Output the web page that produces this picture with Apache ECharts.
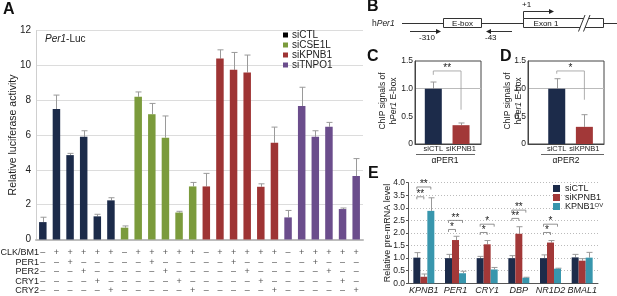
<!DOCTYPE html>
<html>
<head>
<meta charset="utf-8">
<script src="https://cdn.jsdelivr.net/npm/echarts@6/dist/echarts.min.js"></script>
<style>
html, body { margin: 0; padding: 0; background: #fff; }
#chart { width: 617px; height: 296px; }
</style>
</head>
<body>
<div id="chart"></div>
<script>
// Panel A: Per1-Luc reporter, 4 siRNA groups x 6 conditions
const groupNames = ['siCTL', 'siCSE1L', 'siKPNB1', 'siTNPO1']
const ctlVals = [1.0, 7.5, 4.85, 5.9, 1.33, 2.25]
const ctlErr = [0.28, 0.8, 0.1, 0.35, 0.12, 0.15]
const cse1lVals = [0.68, 8.2, 7.2, 5.85, 1.55, 3.05]
const cse1lErr = [0.1, 0.28, 0.62, 1.25, 0.07, 0.23]
const kpnb1Vals = [3.05, 10.4, 9.75, 9.6, 3.03, 5.56]
const kpnb1Err = [0.75, 0.5, 1.0, 1.0, 0.17, 0.9]
const tnpo1Vals = [1.27, 7.67, 5.9, 6.48, 1.75, 3.65]
const tnpo1Err = [0.4, 1.08, 0.35, 0.25, 0.06, 1.0]

const rowNames = ['CLK/BM1', 'PER1', 'PER2', 'CRY1', 'CRY2']
const signCLK = ['–','+','+','+','+','+','–','+','+','+','+','+','–','+','+','+','+','+','–','+','+','+','+','+']
const signPER1 = ['–','–','+','–','–','–','–','–','+','–','–','–','–','–','+','–','–','–','–','–','+','–','–','–']
const signPER2 = ['–','–','–','+','–','–','–','–','–','+','–','–','–','–','–','+','–','–','–','–','–','+','–','–']
const signCRY1 = ['–','–','–','–','+','–','–','–','–','–','+','–','–','–','–','–','+','–','–','–','–','–','+','–']
const signCRY2 = ['–','–','–','–','–','+','–','–','–','–','–','+','–','–','–','–','–','+','–','–','–','–','–','+']

// Panels C / D: ChIP
const chipCats = ['siCTL', 'siKPNB1']
const chipPer1Vals = [1.0, 0.34]
const chipPer1Err = [0.12, 0.04]
const chipPer2Vals = [1.0, 0.31]
const chipPer2Err = [0.18, 0.22]

// Panel E: pre-mRNA
const genes = ['KPNB1', 'PER1', 'CRY1', 'DBP', 'NR1D2', 'BMAL1']
const eCtlVals = [1.02, 1.0, 1.0, 1.0, 1.0, 1.03]
const eCtlErr = [0.2, 0.15, 0.07, 0.1, 0.13, 0.12]
const eKdVals = [0.26, 1.72, 1.55, 1.97, 1.62, 0.9]
const eKdErr = [0.11, 0.15, 0.15, 0.28, 0.08, 0.08]
const eOvVals = [2.88, 0.4, 0.55, 0.22, 0.58, 1.02]
const eOvErr = [0.52, 0.08, 0.08, 0.02, 0.02, 0.21]
// [gene index, from bar, to bar, level]
const eBrackets = [
  [0, 0, 2, 3.83], [0, 0, 1, 3.44],
  [1, 0, 2, 2.5], [1, 0, 1, 2.14],
  [2, 0, 2, 2.35], [2, 0, 1, 2.02],
  [3, 0, 2, 2.91], [3, 0, 1, 2.58],
  [4, 0, 2, 2.35], [4, 0, 1, 2.02]
]
const eBracketLabels = ['**', '**', '**', '*', '*', '*', '**', '**', '*', '*']

const FONT = 'Liberation Sans, Arial, sans-serif'
const colorsA = ['#1c2b4a', '#7b9b3c', '#9e3434', '#6b4d8c']
const colorsE = ['#1c2b4a', '#a23838', '#3896ad']

const catsA = signCLK.map((s, i) => String(i))
const valsA = [ctlVals, cse1lVals, kpnb1Vals, tnpo1Vals]
const errsA = [ctlErr, cse1lErr, kpnb1Err, tnpo1Err]
const signRows = [signCLK, signPER1, signPER2, signCRY1, signCRY2]
const rowOffsets = [12.8, 22.5, 32, 41.5, 51]

function errRender(barW) {
  return function (params, api) {
    const x = api.value(0), v = api.value(1), e = api.value(2), k = api.value(3)
    const p0 = api.coord([x, v])
    const p1 = api.coord([x, v + e])
    const cx = Math.round(p0[0] + k * barW) + 0.5
    const st = { stroke: '#9a9a9a', lineWidth: 1 }
    return {
      type: 'group',
      children: [
        { type: 'line', shape: { x1: cx, y1: p0[1], x2: cx, y2: p1[1] }, style: st },
        { type: 'line', shape: { x1: cx - 3, y1: p1[1], x2: cx + 3, y2: p1[1] }, style: st }
      ]
    }
  }
}

const chart = echarts.init(document.getElementById('chart'))

// x axes: 0 = panel A, 1 = C, 2 = D, 3 = E, 4..8 = condition table rows (own grid under A)
const xAxes = [
  { gridIndex: 0, type: 'category', data: catsA, axisLabel: { show: false }, axisTick: { show: false },
    axisLine: { lineStyle: { color: '#bdbdbd', width: 2 } } }
]
// C and D use value x axes so the bars can sit off-centre in their boxes as in the figure
const chipX = (gi, mn, mx) => ({
  gridIndex: gi, type: 'value', min: mn, max: mx, axisLabel: { show: false }, axisTick: { show: false },
  splitLine: { show: false }, axisLine: { onZero: false, lineStyle: { color: '#444' } }
})
xAxes.push(chipX(1, -0.66, 1.72), chipX(2, -1.04, 1.71))
xAxes.push({
  gridIndex: 3, type: 'category', data: genes, axisTick: { show: false },
  axisLine: { lineStyle: { color: '#555' } },
  axisLabel: { margin: 3, fontFamily: FONT, fontSize: 9, fontStyle: 'italic', color: '#222', interval: 0 }
})
signRows.forEach((row, r) => {
  xAxes.push({
    gridIndex: 4, type: 'category', data: catsA, position: 'bottom', offset: rowOffsets[r],
    axisLine: { show: false }, axisTick: { show: false },
    axisLabel: { interval: 0, margin: 0, verticalAlign: 'middle', fontFamily: FONT, fontSize: 9, color: '#555',
      formatter: (v, i) => row[i] }
  })
})

const chipY = (gi) => ({
  gridIndex: gi, type: 'value', min: 0, max: 1.5, interval: 0.5, position: 'left',
  axisLine: { show: true, onZero: false, lineStyle: { color: '#444' } },
  axisTick: { show: true, length: 0 },
  axisLabel: { show: true, margin: 2, showMinLabel: true, showMaxLabel: true,
    fontFamily: FONT, fontSize: 8.5, color: '#222', formatter: v => v === 0 ? '0' : v.toFixed(1) },
  splitLine: { show: true, lineStyle: { color: ['transparent', 'transparent', '#bbb', 'transparent'] } }
})

const yAxes = [
  { gridIndex: 0, type: 'value', min: 0, max: 12, interval: 2, position: 'left',
    axisLine: { show: true, onZero: false, lineStyle: { color: '#cfcfcf' } }, axisTick: { show: true, length: 0 },
    axisLabel: { show: true, margin: 5, showMinLabel: true, showMaxLabel: true, fontFamily: FONT, fontSize: 10, color: '#222' },
    splitLine: { lineStyle: { color: '#dcdcdc' } } },
  chipY(1), chipY(2),
  { gridIndex: 3, type: 'value', min: 0, max: 4, interval: 0.5,
    axisLine: { show: true, lineStyle: { color: '#555' } }, axisTick: { show: true, length: 2, lineStyle: { color: '#555' } },
    axisLabel: { margin: 3, showMinLabel: true, fontFamily: FONT, fontSize: 8.5, color: '#222', formatter: v => v.toFixed(1) },
    splitLine: { lineStyle: { color: '#bbb', type: [1, 2] } } },
  { gridIndex: 4, type: 'value', show: false }
]

const series = []
groupNames.forEach((g, gi) => {
  series.push({
    name: g, type: 'bar', xAxisIndex: 0, yAxisIndex: 0, barWidth: 7.5, barGap: '-100%',
    itemStyle: { color: colorsA[gi] },
    data: catsA.map((c, i) => Math.floor(i / 6) === gi ? valsA[gi][i % 6] : null)
  })
})
series.push({
  type: 'custom', xAxisIndex: 0, yAxisIndex: 0, renderItem: errRender(0), z: 1,
  data: catsA.map((c, i) => [i, valsA[Math.floor(i / 6)][i % 6], errsA[Math.floor(i / 6)][i % 6], 0])
})

// [values, errors, x axis, y axis, bracket [level, left leg end, right leg end], label]
const chipSets = [
  [chipPer1Vals, chipPer1Err, 1, 1, [1.32, 1.25, 0.62], '**'],
  [chipPer2Vals, chipPer2Err, 2, 2, [1.32, 1.27, 0.8], '*']
]
chipSets.forEach(([vals, errs, xi, yi, br, lab]) => {
  series.push({
    type: 'bar', xAxisIndex: xi, yAxisIndex: yi, barWidth: 17,
    label: { show: true, position: 'bottom', distance: 1, fontFamily: FONT, fontSize: 7.5, color: '#222',
      formatter: p => chipCats[p.dataIndex] },
    data: vals.map((v, i) => ({ value: [i, v], itemStyle: { color: i === 0 ? colorsE[0] : colorsE[1] } }))
  })
  series.push({
    type: 'custom', xAxisIndex: xi, yAxisIndex: yi, renderItem: errRender(0), z: 1,
    data: vals.map((v, i) => [i, v, errs[i], 0])
  })
  series.push({
    type: 'custom', xAxisIndex: xi, yAxisIndex: yi, renderItem: function (params, api) {
      const pa = api.coord([0, api.value(0)]), pb = api.coord([1, api.value(0)])
      const la = api.coord([0, api.value(1)])[1], lb = api.coord([1, api.value(2)])[1]
      return {
        type: 'group', children: [
          { type: 'polyline', shape: { points: [[pa[0], la], [pa[0], pa[1]], [pb[0], pb[1]], [pb[0], lb]] },
            style: { stroke: '#999', lineWidth: 0.8, fill: null } },
          { type: 'text', x: (pa[0] + pb[0]) / 2, y: pa[1] + 2,
            style: { text: lab, font: '10px ' + FONT, fill: '#222', align: 'center', verticalAlign: 'bottom' } }
        ]
      }
    },
    data: [br]
  })
})

const eVals = [eCtlVals, eKdVals, eOvVals]
const eErrs = [eCtlErr, eKdErr, eOvErr]
const eNames = ['E:siCTL', 'E:siKPNB1', 'E:KPNB1OV']
eNames.forEach((n, k) => {
  series.push({
    name: n, type: 'bar', xAxisIndex: 3, yAxisIndex: 3, barWidth: 7, barGap: '0%',
    itemStyle: { color: colorsE[k] }, data: eVals[k]
  })
})
const eErrData = []
eVals.forEach((vals, k) => vals.forEach((v, i) => eErrData.push([i, v, eErrs[k][i], k - 1])))
series.push({ type: 'custom', xAxisIndex: 3, yAxisIndex: 3, renderItem: errRender(7), z: 1, data: eErrData })
series.push({ type: 'custom', xAxisIndex: 3, yAxisIndex: 3, renderItem: function (params, api) {
  const c = api.value(0), k0 = api.value(1) - 1, k1 = api.value(2) - 1
  const p = api.coord([c, api.value(3)])
  const x0 = p[0] + k0 * 7, x1 = p[0] + k1 * 7
  return {
    type: 'group', children: [
      { type: 'polyline', shape: { points: [[x0, p[1] + 2.5], [x0, p[1]], [x1, p[1]], [x1, p[1] + 2.5]] },
        style: { stroke: '#777', lineWidth: 0.8, fill: null } },
      { type: 'text', x: (x0 + x1) / 2, y: p[1] + 2.5,
        style: { text: eBracketLabels[params.dataIndex], font: '10px ' + FONT, fill: '#222', align: 'center', verticalAlign: 'bottom' } }
    ]
  }
}, data: eBrackets })

const txt = (x, y, text, font, extra) => ({
  type: 'text', x: x, y: y, silent: true,
  style: Object.assign({ text: text, font: font, fill: '#111', align: 'left', verticalAlign: 'middle' }, extra || {})
})
const ln = (x1, y1, x2, y2, color) => ({
  type: 'line', silent: true, shape: { x1: x1, y1: y1, x2: x2, y2: y2 }, style: { stroke: color || '#333', lineWidth: 1 }
})
const head = (x, y, dir) => ({
  type: 'polygon', silent: true, shape: { points: [[x, y], [x - 5 * dir, y - 2.5], [x - 5 * dir, y + 2.5]] }, style: { fill: '#222' }
})
const vTitle = (x, y, text, size) => ({
  type: 'text', x: x, y: y, rotation: Math.PI / 2, silent: true,
  style: { text: text, font: size + 'px ' + FONT, fill: '#222', align: 'center', verticalAlign: 'middle',
    lineHeight: 11, rich: { i: { fontStyle: 'italic', fontSize: size, fontFamily: FONT, fill: '#222', lineHeight: 11 } } }
})

const graphics = [
  txt(3, 10, 'A', 'bold 16px ' + FONT),
  txt(367, 7, 'B', 'bold 16px ' + FONT),
  txt(367, 56.5, 'C', 'bold 16px ' + FONT),
  txt(500, 56.5, 'D', 'bold 16px ' + FONT),
  txt(368, 174, 'E', 'bold 16px ' + FONT),
  { type: 'text', x: 45, y: 39.5, silent: true, style: { text: '{i|Per1}-Luc', font: '10px ' + FONT, fill: '#222', verticalAlign: 'middle',
    rich: { i: { fontStyle: 'italic', fontSize: 10, fontFamily: FONT, fill: '#222' } } } },
  // axis titles
  vTitle(13, 135, 'Relative luciferase activity', 10.5),
  vTitle(388, 101, 'ChIP signals of\nh{i|Per1} E-box', 8.5),
  vTitle(513, 101, 'ChIP signals of\nh{i|Per1} E-box', 8.5),
  vTitle(388, 233, 'Relative pre-mRNA level', 9),
  // panel B schematic
  { type: 'text', x: 372, y: 23.5, silent: true, style: { text: 'h{i|Per1}', font: '8.5px ' + FONT, fill: '#222', verticalAlign: 'middle',
    rich: { i: { fontStyle: 'italic', fontSize: 8.5, fontFamily: FONT, fill: '#222' } } } },
  ln(402, 23.5, 443, 23.5), ln(482, 23.5, 523, 23.5), ln(604, 23.5, 617, 23.5),
  { type: 'rect', silent: true, shape: { x: 443.5, y: 18.5, width: 38, height: 9 }, style: { fill: '#fff', stroke: '#333', lineWidth: 1 } },
  txt(462.5, 23.5, 'E-box', '8px ' + FONT, { align: 'center' }),
  { type: 'rect', silent: true, shape: { x: 523.5, y: 18.5, width: 80, height: 9 }, style: { fill: '#fff', stroke: '#333', lineWidth: 1 } },
  txt(546, 23.5, 'Exon 1', '8px ' + FONT, { align: 'center' }),
  { type: 'polygon', silent: true, shape: { points: [[578.5, 31.5], [585, 15], [590, 15], [583.5, 31.5]] }, style: { fill: '#fff' } },
  ln(578.5, 31.5, 585, 15), ln(583.5, 31.5, 590, 15),
  txt(522, 5, '+1', '8px ' + FONT),
  ln(523.5, 18.5, 523.5, 11.5), ln(523.5, 11.5, 550, 11.5), head(554, 11.5, 1),
  ln(410, 31.5, 437, 31.5), head(441, 31.5, 1), txt(419, 37.5, '-310', '8px ' + FONT),
  ln(490, 31.5, 512, 31.5), head(486, 31.5, -1), txt(485, 37.5, '-43', '8px ' + FONT),
  // panels C / D group labels
  ln(416, 154.5, 475, 154.5, '#666'), txt(445, 161, 'αPER1', '8.5px ' + FONT, { align: 'center' }),
  ln(541, 154.5, 604, 154.5, '#666'), txt(566, 161, 'αPER2', '8.5px ' + FONT, { align: 'center' })
]
// row titles of the condition table under panel A
rowNames.forEach((n, r) => {
  graphics.push(txt(39, 240 + rowOffsets[r], n, '9px ' + FONT, { align: 'right', fill: '#222' }))
})

const option = {
  animation: false,
  textStyle: { fontFamily: FONT },
  grid: [
    { left: 36, top: 30.7, width: 327, height: 208.8, outerBoundsMode: 'none' },
    { left: 415, top: 61, width: 66, height: 83, show: true, borderColor: '#444', borderWidth: 1, outerBoundsMode: 'none' },
    { left: 528, top: 61, width: 76, height: 83, show: true, borderColor: '#444', borderWidth: 1, outerBoundsMode: 'none' },
    { left: 408, top: 182.7, width: 190, height: 100.6, outerBoundsMode: 'none' },
    { left: 36, top: 238, width: 327, height: 2, outerBoundsMode: 'none' }
  ],
  legend: [
    { data: [{ name: 'siCTL', itemStyle: { color: '#000' } }, 'siCSE1L', 'siKPNB1', 'siTNPO1'],
      orient: 'vertical', left: 283, top: 30, itemWidth: 5, itemHeight: 5, itemGap: 0, padding: 0,
      selectedMode: false, icon: 'rect',
      textStyle: { fontFamily: FONT, fontSize: 10, lineHeight: 10, color: '#222', padding: [0, 0, 0, -1] } },
    { data: eNames, orient: 'vertical', left: 553, top: 184, itemWidth: 7, itemHeight: 7, itemGap: 0, padding: 0,
      selectedMode: false, icon: 'rect',
      formatter: n => n === 'E:KPNB1OV' ? 'KPNB1{s|OV}' : n.slice(2),
      textStyle: { fontFamily: FONT, fontSize: 9, lineHeight: 8.6, color: '#222',
        rich: { s: { fontSize: 6, fontFamily: FONT, color: '#222', verticalAlign: 'top', lineHeight: 6 } } } }
  ],
  xAxis: xAxes,
  yAxis: yAxes,
  series: series,
  graphic: graphics
}
chart.setOption(option)
</script>
</body>
</html>
